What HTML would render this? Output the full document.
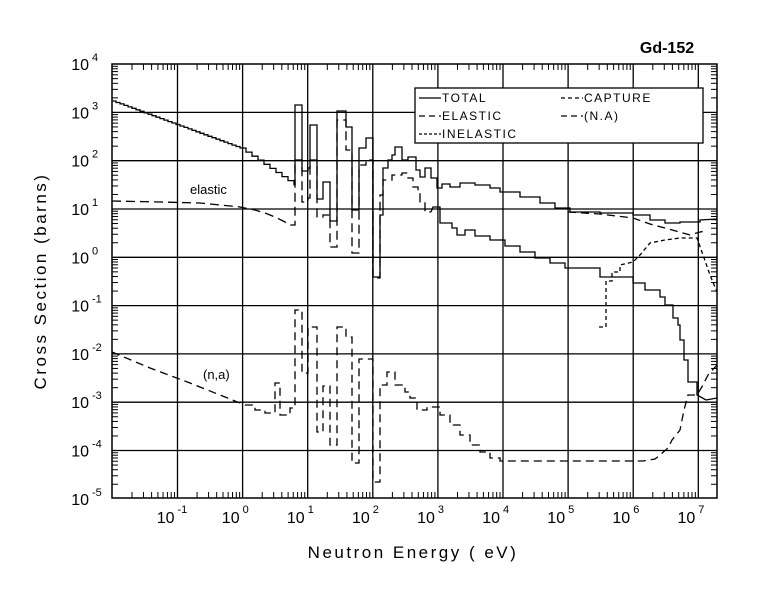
<!DOCTYPE html>
<html><head><meta charset="utf-8"><style>
body{margin:0;background:#fff;}
svg{display:block;}
text{font-family:"Liberation Sans",sans-serif;fill:#000;}
</style></head><body>
<svg id="s" width="779" height="590" viewBox="0 0 779 590" xmlns="http://www.w3.org/2000/svg">
<rect x="0" y="0" width="779" height="590" fill="#fff"/>
<g id="grid" stroke="#000" stroke-width="1.3" fill="none"></g>
<g id="ticks" stroke="#000" stroke-width="1" fill="none"></g>
<rect x="112" y="64" width="605" height="434" fill="none" stroke="#000" stroke-width="1.5"/>
<g id="labels"></g>
<g fill="none" stroke="#000" stroke-width="1.3">
<!-- total -->
<path id="tot" d=""/>
<!-- elastic -->
<path stroke-dasharray="9,5" d="M112,201 L160,202 200,203 240,207 255,210 265,213 275,217 285,222 290,225 295,225 295,160 302,160 302,202 308,202 308,198 310,198 310,160 317,160 317,217 323,217 323,215 330,215 330,247 337,247 337,120 346,120 346,150 352,150 352,253 359,253 359,165 366,165 366,160 373,160 373,278 380,278 380,195 383,195 383,180 392,180 392,175 402,175 402,173 408,173 408,178 413,178 413,187 418,187 418,193 420,193 420,202 425,202 425,212 431,212"/>
<path d="M431,212 L433,207 440,207 440,223 452,223 452,228 457,228 457,235 465,235 465,230 475,230 475,236 490,236 490,240 505,240 505,246 520,246 520,252 535,252 535,258 550,258 550,263 565,263 565,268 600,268 600,277 633,277 633,283 645,283 645,290 660,290 660,297 665,297 665,305 673,305 673,318 678,318 678,325 680,325 680,340 684,340 684,360 688,360 688,382 690,382 690,382 697,382 697,395 706,400 717,398"/>
<path stroke-dasharray="8,5" d="M568,212 L600,214 633,218 650,224 665,228 690,235 700,232 706,231"/>
<!-- inelastic -->
<path stroke-dasharray="4,3" d="M599,327 L606,327 606,281 612,281 612,272 620,272 620,265 633,262 640,255 650,243 665,240 680,238 697,238 703,255 710,275 717,292"/>
<!-- (n,a) -->
<path stroke-dasharray="8,5" d="M112,352 L150,368 190,383 220,395 245,405 255,405 255,410 265,410 265,413 275,413 275,383 280,383 280,415 290,415 290,408 295,408 295,310 302,310 302,373 308,373 308,327 317,327 317,432 323,432 323,386 330,386 330,445 337,445 337,327 346,327 346,337 352,337 352,463 359,463 359,359 373,359 373,482 380,482 380,385 387,385 387,372 395,372 395,385 405,385 405,392 410,392 410,398 417,398 417,410 427,410 427,407 440,407 440,415 450,415 450,425 460,425 460,435 470,435 470,445 480,445 480,452 490,452 490,458 500,458 500,461 643,461 655,459 660,455 668,448 672,440 680,430 684,410 688,395 697,395 703,385 708,375 717,365"/>
</g>
<text x="190" y="194" font-size="13">elastic</text>
<text x="203" y="379" font-size="13">(n,a)</text>
<text x="667" y="53" font-size="16" font-weight="bold" text-anchor="middle">Gd-152</text>
<rect x="415" y="88" width="288" height="55" fill="#fff" stroke="#000" stroke-width="1.3"/>
<g stroke="#000" stroke-width="1.2">
<line x1="419" y1="98" x2="441" y2="98"/>
<line x1="419" y1="116" x2="441" y2="116" stroke-dasharray="6,4"/>
<line x1="419" y1="134" x2="441" y2="134" stroke-dasharray="3,2"/>
<line x1="561" y1="98" x2="583" y2="98" stroke-dasharray="4,3"/>
<line x1="561" y1="116" x2="583" y2="116" stroke-dasharray="6,4"/>
</g>
<g font-size="12" letter-spacing="1.5">
<text x="442" y="102">TOTAL</text>
<text x="442" y="120">ELASTIC</text>
<text x="442" y="138">INELASTIC</text>
<text x="584" y="102">CAPTURE</text>
<text x="584" y="120">(N.A)</text>
</g>
<text x="413" y="558" font-size="17" text-anchor="middle" letter-spacing="2.5">Neutron Energy ( eV)</text>
<text transform="translate(46,281) rotate(-90)" font-size="17" text-anchor="middle" letter-spacing="2.5">Cross Section (barns)</text>
</svg>
<script>
var NS="http://www.w3.org/2000/svg";
function X(l){return 112.4+65.1*(l+2);}
function Y(l){return 257.3-48.3*l;}
var g=document.getElementById('grid'),t=document.getElementById('ticks'),lb=document.getElementById('labels');
function ln(p,a,b,c,d){var e=document.createElementNS(NS,'line');e.setAttribute('x1',a);e.setAttribute('y1',b);e.setAttribute('x2',c);e.setAttribute('y2',d);p.appendChild(e);}
function tx(x,y,s,sz,anc){var e=document.createElementNS(NS,'text');e.setAttribute('x',x);e.setAttribute('y',y);e.setAttribute('font-size',sz);if(anc)e.setAttribute('text-anchor',anc);e.textContent=s;lb.appendChild(e);}
for(var d=-1;d<=7;d++){var x=X(d);ln(g,x,64,x,498);}
for(var d=-4;d<=3;d++){var y=Y(d);ln(g,112,y,717,y);}
for(var d=-2;d<=7;d++){for(var m=2;m<=9;m++){var x=X(d+Math.log10(m));if(x>717)continue;ln(t,x,64,x,70);ln(t,x,498,x,492);}}
for(var d=-5;d<=3;d++){for(var m=2;m<=9;m++){var y=Y(d+Math.log10(m));ln(t,112,y,118,y);ln(t,717,y,711,y);}}
for(var d=-5;d<=4;d++){var y=Y(d);tx(89,y+6,"10","16","end");tx(92,y-3,String(d),"11");}
for(var d=-1;d<=7;d++){var x=X(d);tx(x-3,523,"10","16","end");tx(x,513,String(d),"11");}
// total low-energy fine steps
var p="M112,101";var x=112,y=101;
while(x<290){var nx=x+(x<240?4:6);var ny=x<240?101+(nx-112)*(47/128):148+(nx-240)*(34/50);
p+=" L"+nx+","+y.toFixed(1)+" "+nx+","+ny.toFixed(1);x=nx;y=ny;}
p+=" L295,"+y.toFixed(1)+" 295,182";
p+=" 295,105 302,105 302,171 308,171 308,168 310,168 310,125 317,125 317,199 323,199 323,182 330,182 330,221 337,221 337,111 346,111 346,127 352,127 352,210 359,210 359,148 366,148 366,138 373,138 373,277 380,277 380,215 383,215 383,168 388,168 388,160 392,160 392,155 395,155 395,147 402,147 402,160 408,160 408,157 416,157 416,170 420,170 420,177 425,177 425,168 431,168 431,178 437,178 437,188 442,188 442,184 450,184 450,187 460,187 460,183 475,183 475,185 490,185 490,188 500,188 500,192 520,192 520,197 540,197 540,203 555,203 555,208 570,208 570,212 600,212 600,213 633,213 633,215 650,215 650,220 665,220 665,223 680,223 680,222 700,222 700,220 717,219";
document.getElementById('tot').setAttribute('d',p);
</script>
</body></html>
